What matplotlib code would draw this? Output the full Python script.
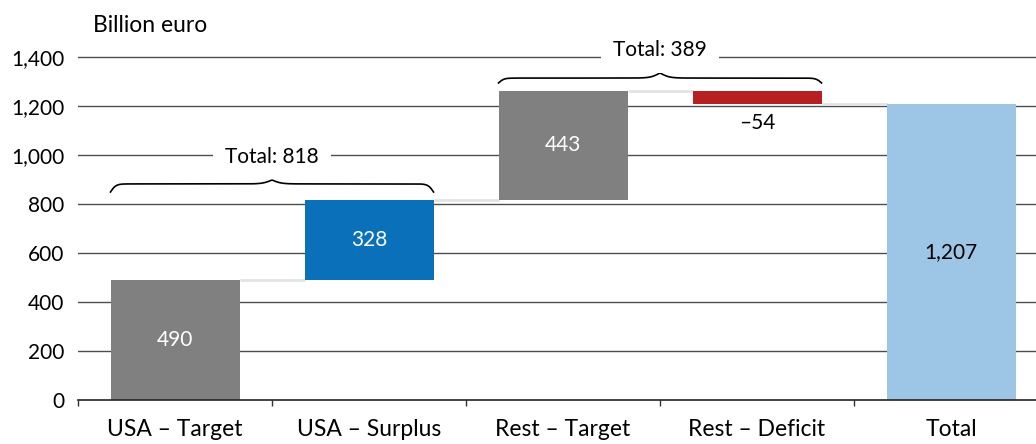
import numpy as np
import matplotlib
matplotlib.use("Agg")
import matplotlib.pyplot as plt
from matplotlib.ticker import FuncFormatter

plt.rcParams['font.family'] = ['Lato', 'DejaVu Sans']

# data
categories = ["USA – Target", "USA – Surplus", "Rest – Target", "Rest – Deficit", "Total"]
values = [490, 328, 443, -54, 1207]
bar_labels = ["490", "328", "443", "\u201354", "1,207"]
colors = ["#808080", "#0a70ba", "#808080", "#b71f21", "#9dc6e6"]
label_colors = ["white", "white", "white", "black", "black"]
group_totals = [818, 389]

fig = plt.figure(figsize=(10.36, 4.44), dpi=100)
ax = fig.add_axes([0.0753, 0.0991, 0.9363, 0.8277])

x = np.arange(len(categories))
width = 0.665
word_fs = 16.5
num_fs = 15

# waterfall bottoms
cum = np.cumsum(values[:-1])
bottoms = []
for i, v in enumerate(values[:-1]):
    start = cum[i] - v
    bottoms.append(min(start, cum[i]))
bottoms.append(0)
heights = [abs(v) for v in values]

ax.bar(x, heights, bottom=bottoms, width=width, color=colors, zorder=3)

# connectors
levels = list(cum)
for i in range(len(categories) - 1):
    ax.plot([x[i] + width / 2, x[i + 1] - width / 2], [levels[i], levels[i]],
            color="#e3e3e3", lw=2, zorder=2.5, solid_capstyle="butt")

# bar labels
for i in range(len(categories)):
    if values[i] < 0:
        ypos = bottoms[i] - 75
    else:
        ypos = bottoms[i] + heights[i] / 2
    ax.text(x[i], ypos, bar_labels[i], ha="center", va="center",
            color=label_colors[i], fontsize=num_fs, zorder=4)


def brace(ax, x0, x1, y_end, curl, peak):
    xs = np.linspace(x0, x1, 400)
    t = (xs - x0) / (x1 - x0)
    u = np.minimum(t, 1 - t)
    s1 = 1 / (1 + np.exp(-120 * u))
    s2 = 1 / (1 + np.exp(-70 * (u - 0.5)))
    ys = y_end + 2 * curl * (s1 - 0.5) + 2 * peak * s2
    ax.plot(xs, ys, color="black", lw=1.2, zorder=4, clip_on=False)


brace(ax, -width / 2, 1 + width / 2, 849, 33, 16)
brace(ax, 2 - width / 2, 3 + width / 2, 1294, 20, 21)

ax.text(0.5, 992, "Total: %d" % group_totals[0], ha="center", va="center", fontsize=num_fs,
        zorder=4, bbox=dict(facecolor="white", edgecolor="none", pad=9))
ax.text(2.5, 1428, "Total: %d" % group_totals[1], ha="center", va="center", fontsize=num_fs,
        zorder=4, clip_on=False, bbox=dict(facecolor="white", edgecolor="none", pad=9))

# axes styling
ax.set_ylim(0, 1500)
ax.set_xlim(-0.5, len(categories) - 0.5)
ax.set_yticks(range(0, 1401, 200))
ax.yaxis.set_major_formatter(FuncFormatter(lambda v, p: "{:,}".format(int(v))))
ax.tick_params(axis="y", length=0, pad=10, labelsize=num_fs)
for yv in range(200, 1401, 200):
    ax.axhline(yv, color="#4d4d4d", lw=1, zorder=1)

ax.set_xticks(x)
ax.set_xticklabels(categories)
ax.set_xticks(np.arange(-0.5, len(categories), 1), minor=True)
ax.tick_params(axis="x", which="major", length=0, pad=14, labelsize=word_fs)
ax.tick_params(axis="x", which="minor", length=4, width=1, color="#333333")

for s in ["left", "right", "top"]:
    ax.spines[s].set_visible(False)
ax.spines["bottom"].set_color("#222222")
ax.spines["bottom"].set_linewidth(1.2)
ax.spines["bottom"].set_zorder(5)

fig.text(93 / 1036, 1 - 25 / 444, "Billion euro", ha="left", va="center", fontsize=word_fs)

fig.savefig("out.png", dpi=100)
